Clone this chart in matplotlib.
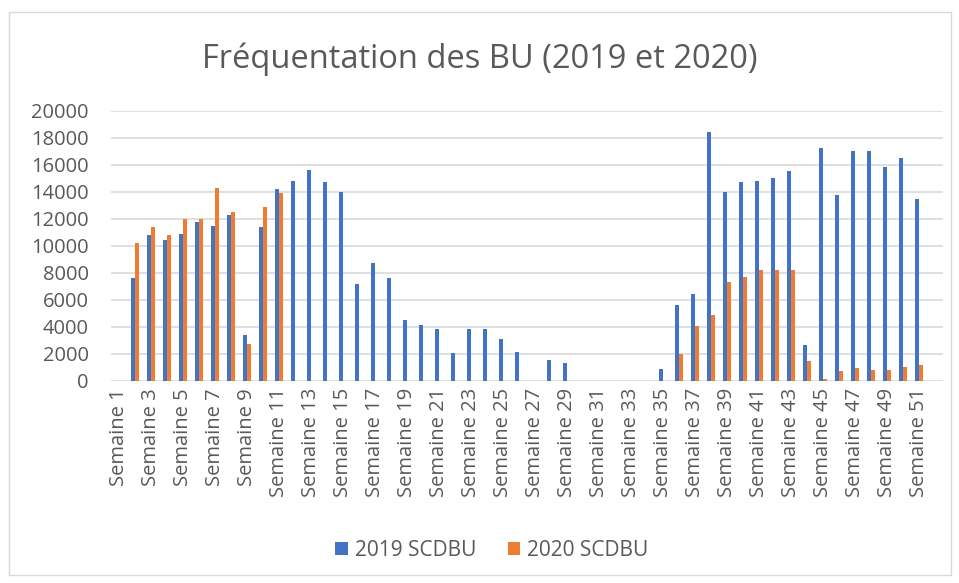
import matplotlib
matplotlib.use("Agg")
import matplotlib.pyplot as plt
import numpy as np
from matplotlib.patches import Rectangle

# --- DONNEES ---
semaines = [f"Semaine {i}" for i in range(1, 53)]

# 2019 SCDBU, semaines 1 a 52
freq_2019 = [0, 7600, 10800, 10400, 10850, 11800, 11450, 12300, 3400, 11400,
             14200, 14800, 15600, 14700, 13950, 7200, 8700, 7600, 4500, 4150,
             3850, 2050, 3850, 3850, 3100, 2150, 0, 1550, 1300, 0,
             0, 0, 0, 0, 900, 5600, 6450, 18400, 13950, 14700,
             14800, 15050, 15550, 2650, 17250, 13750, 17050, 17050, 15800, 16500,
             13450, 0]

# 2020 SCDBU, semaines 1 a 52
freq_2020 = [0, 10200, 11400, 10800, 12000, 11950, 14300, 12500, 2750, 12900,
             13900, 0, 0, 0, 0, 0, 0, 0, 0, 0,
             0, 0, 0, 0, 0, 0, 0, 0, 0, 0,
             0, 0, 0, 0, 0, 2000, 4050, 4850, 7300, 7700,
             8250, 8250, 8250, 1500, 150, 750, 950, 800, 800, 1050,
             1150, 0]

series = ["2019 SCDBU", "2020 SCDBU"]
couleurs = ["#4472C4", "#ED7D31"]
gris_texte = "#595959"

plt.rcParams['font.family'] = ['Open Sans', 'DejaVu Sans']

W, H = 959, 583
fig = plt.figure(figsize=(W / 100, H / 100), dpi=100)

# cadre de la zone graphique
fig.patches.append(Rectangle((9 / W, 8 / H), (951 - 9) / W, (571 - 8) / H,
                             transform=fig.transFigure, fill=False,
                             edgecolor="#D9D9D9", linewidth=1))

ax = fig.add_axes([111 / W, (H - 381) / H, (943 - 111) / W, 270.3 / H])

x = np.arange(len(semaines))
larg = 0.28
ax.bar(x - larg / 2, freq_2019, larg, color=couleurs[0], label=series[0], zorder=3)
ax.bar(x + larg / 2, freq_2020, larg, color=couleurs[1], label=series[1], zorder=3)

ax.set_xlim(-0.5, len(semaines) - 0.5)
ax.set_ylim(0, 20000)
ax.set_yticks(range(0, 20001, 2000))
ax.grid(axis="y", color="#D9D9D9", linewidth=1.2, zorder=0)
for s in ax.spines.values():
    s.set_visible(False)

ax.set_xticks(x[::2])
ax.set_xticklabels(semaines[::2], rotation=90)
ax.tick_params(axis="both", length=0, labelsize=14.5, colors=gris_texte)
ax.tick_params(axis="y", pad=16)
ax.tick_params(axis="x", pad=5)

fig.text(0.5, (H - 59) / H, "Fréquentation des BU (2019 et 2020)",
         ha="center", va="center", fontsize=23.5, color=gris_texte)

fig.legend(loc="center", bbox_to_anchor=(0.513, (H - 550) / H), ncol=2,
           frameon=False, fontsize=15, labelcolor=gris_texte,
           handlelength=0.6, handleheight=0.6, handletextpad=0.35,
           columnspacing=1.5)

fig.savefig("out.png", dpi=100)
